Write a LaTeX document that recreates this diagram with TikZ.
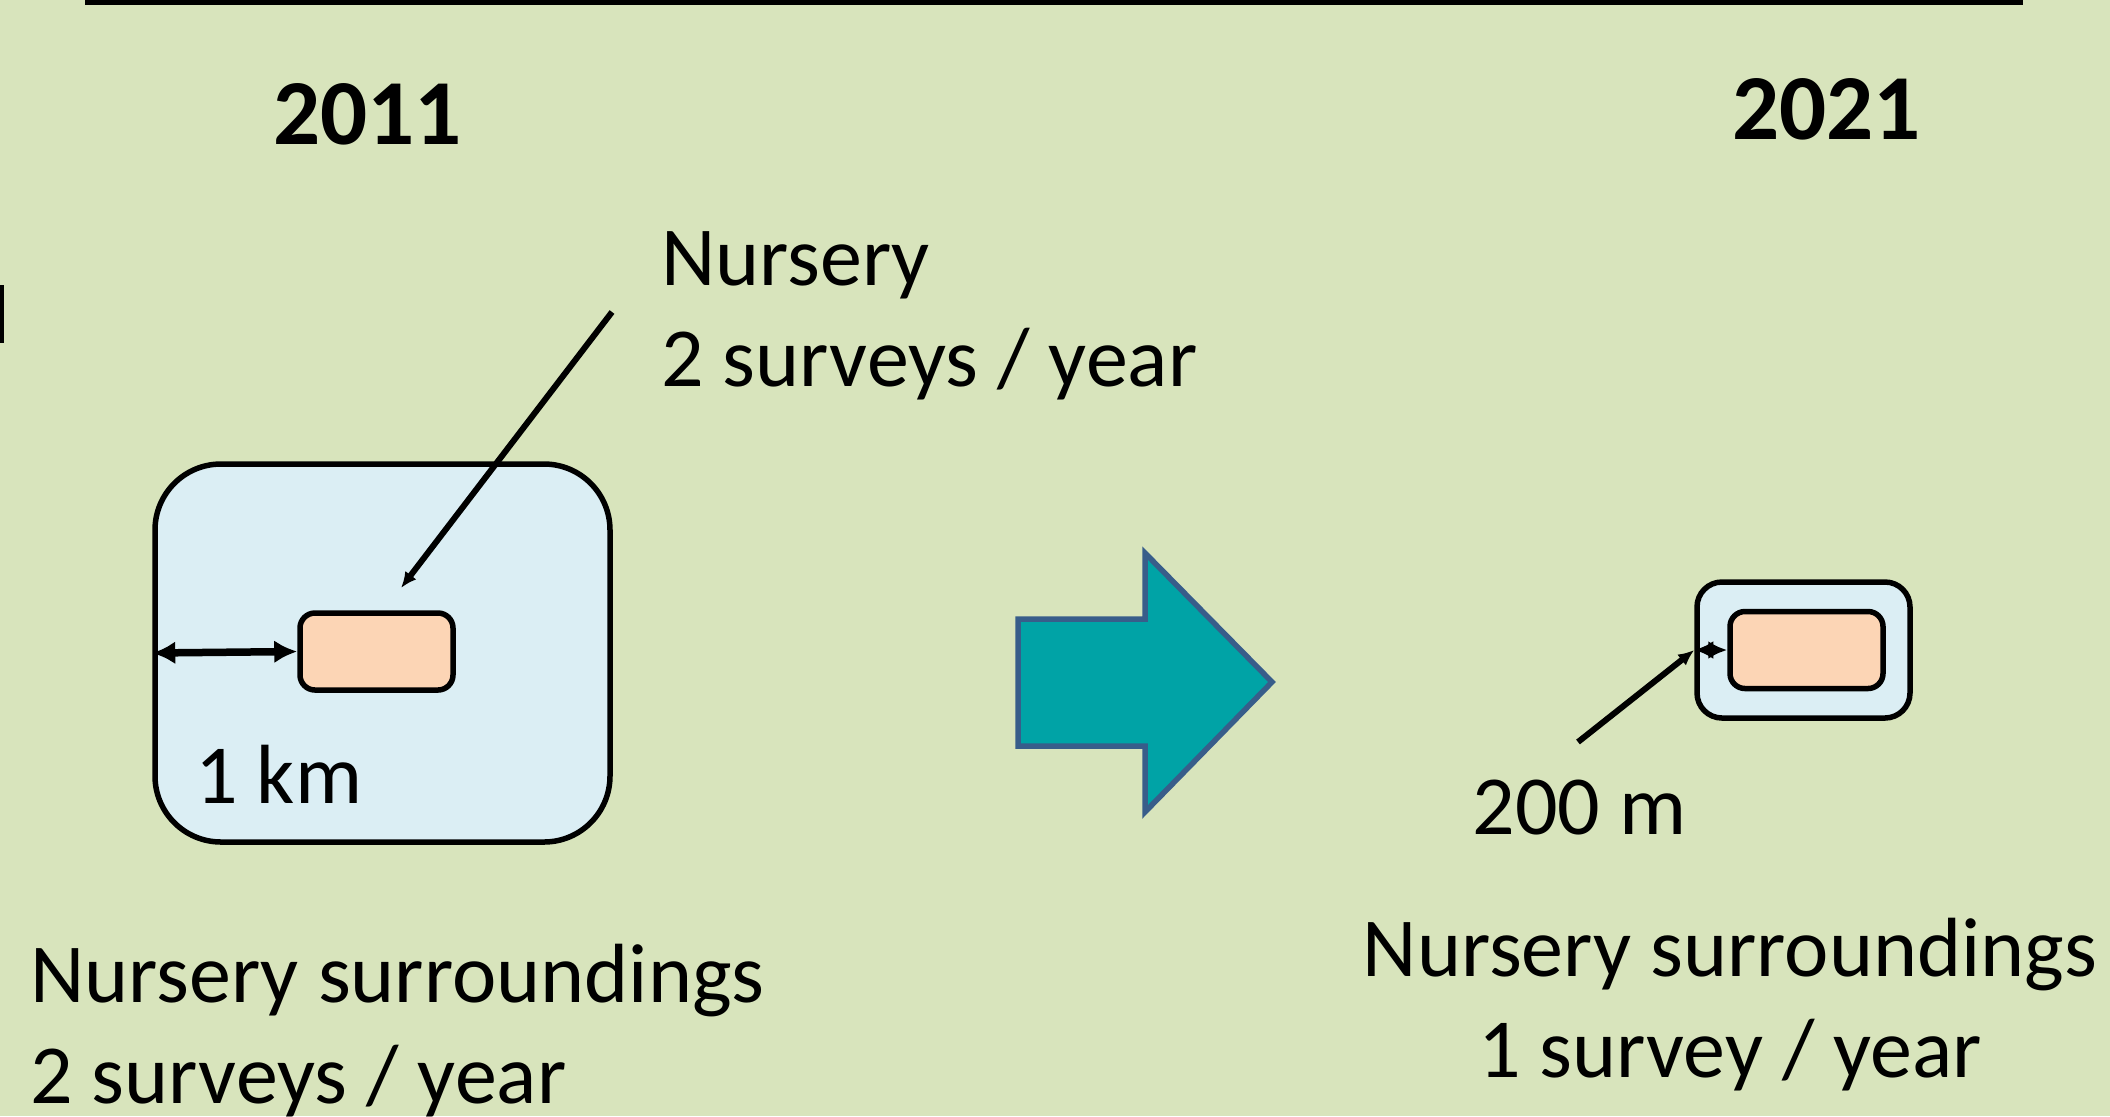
\documentclass[tikz,border=0pt]{standalone}
\usepackage{fontspec}
\setmainfont{Carlito}
\usetikzlibrary{arrows.meta}
\definecolor{slidegreen}{HTML}{D8E4BC}
\definecolor{zonefill}{HTML}{DBEEF4}
\definecolor{nurseryfill}{HTML}{FCD5B5}
\definecolor{arrowfill}{HTML}{00A3A6}
\definecolor{arrowedge}{HTML}{385D8A}
\tikzset{
  zonebox/.style={draw, line width=2.75pt, fill=zonefill, rounded corners=#1, inner sep=0pt},
  zonebox/.default=33pt,
  nurserybox/.style={draw, line width=2.75pt, fill=nurseryfill, rounded corners=7.5pt,
    minimum width=76.5pt, minimum height=38.5pt, inner sep=0pt},
  lbl/.style={inner sep=0pt, font=\fontsize{42}{50.5}\selectfont},
  yearlbl/.style={inner sep=0pt, font=\fontsize{46.5}{56}\selectfont\bfseries},
}
\begin{document}
\begin{tikzpicture}[x=0.5pt, y=-0.5pt, >={Latex[length=8pt,width=7pt]}]
    \fill[slidegreen] (0,0) rectangle (2110,1116);
    \useasboundingbox (0,0) rectangle (2110,1116);
    \draw[line width=2.75pt] (85,2) -- (2023,2);
    \fill (0,285) rectangle (4,343);

    % years
    \node[yearlbl, anchor=base west] (year11) at (273,144) {2011};
    \node[yearlbl, anchor=base west] (year21) at (1732,139) {2021};

    % 2011: 1 km zone
    \node[zonebox, minimum width=227.5pt, minimum height=189pt] (zoneA) at (382.5,653) {};
    \node[nurserybox] (nurseryA) at (376.5,651.5) {};
    \draw[line width=3.75pt, {Latex[length=11.5pt,width=11.5pt]}-{Latex[length=11.5pt,width=11.5pt]}]
        (zoneA.west) -- (nurseryA.west);
    \node[lbl, anchor=base west] (kmlbl) at (195,803) {1 km};
    \node[lbl, anchor=base west, align=left] (nurserylbl) at (661,386) {Nursery\\2 surveys / year};
    \coordinate (nurserytail) at (612,312);
    \coordinate (nurserytip) at (401,588);
    \draw[line width=3pt, ->] (nurserytail) -- (nurserytip);
    \node[lbl, anchor=base west, align=left] (surrA) at (30,1103) {Nursery surroundings\\2 surveys / year};

    % big arrow
    \draw[fill=arrowfill, draw=arrowedge, line width=2.75pt]
        (1018,619) -- (1145,619) -- (1145,553) -- (1272,682) -- (1145,812) -- (1145,746) -- (1018,746) -- cycle;

    % 2021: 200 m zone
    \node[zonebox=12.5pt, minimum width=106.5pt, minimum height=68pt] (zoneB) at (1803.5,650) {};
    \node[nurserybox] (nurseryB) at (1806.5,650) {};
    \draw[line width=2.75pt, {Latex[length=9.5pt,width=9pt]}-{Latex[length=9.5pt,width=9pt]}]
        (zoneB.west) -- (nurseryB.west);
    \coordinate (disttail) at (1578,742);
    \draw[line width=3pt, ->] (disttail) -- (zoneB.west);
    \node[lbl, anchor=base west] (mlbl) at (1472,834) {200 m};
    \node[lbl, anchor=base, align=center] (surrB) at (1730,1077) {Nursery surroundings\\1 survey / year};
\end{tikzpicture}
\end{document}
